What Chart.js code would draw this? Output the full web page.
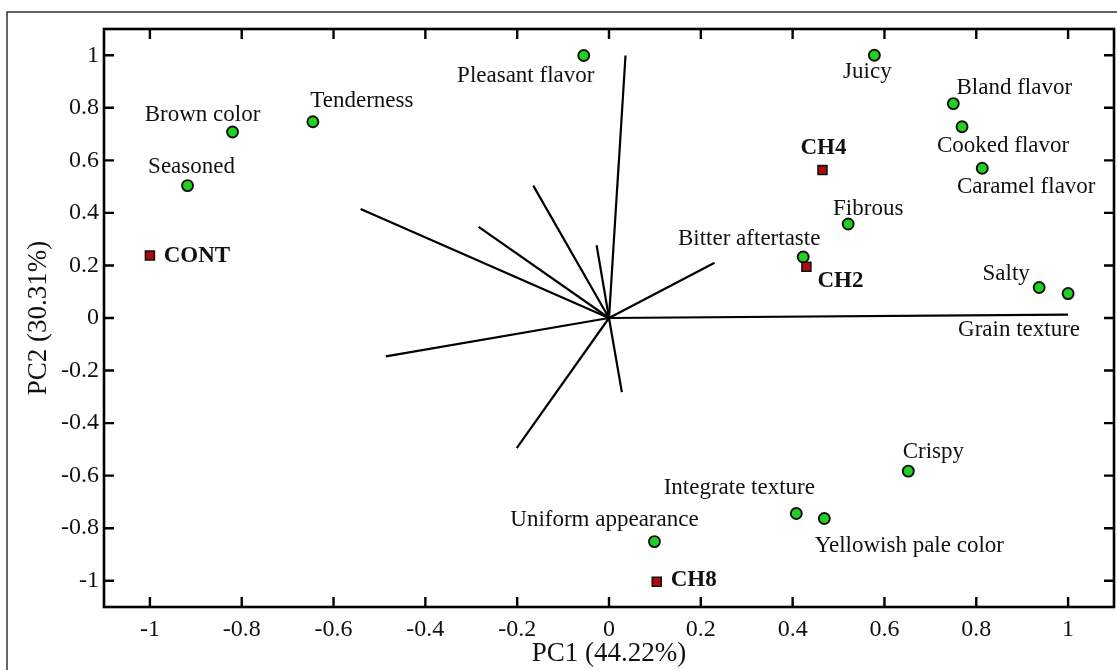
<!DOCTYPE html>
<html>
<head>
<meta charset="utf-8">
<script src="https://cdn.jsdelivr.net/npm/chart.js@4/dist/chart.umd.min.js"></script>
<style>
  body { margin: 0; background: #fff; }
  canvas { display: block; }
</style>
</head>
<body>
<canvas id="myChart" width="1117" height="670"></canvas>
<script>
  // sensory attributes (green circles)
  const attrNames = [
    'Seasoned', 'Brown color', 'Tenderness', 'Pleasant flavor', 'Juicy',
    'Bland flavor', 'Cooked flavor', 'Caramel flavor', 'Fibrous', 'Bitter aftertaste',
    'Salty', 'Grain texture', 'Crispy', 'Integrate texture', 'Yellowish pale color',
    'Uniform appearance'
  ];
  const attrX = [-0.918, -0.820, -0.645, -0.055, 0.578, 0.750, 0.769, 0.813, 0.521, 0.423,
    0.937, 1.000, 0.652, 0.408, 0.469, 0.099];
  const attrY = [0.504, 0.708, 0.747, 0.999, 1.000, 0.816, 0.728, 0.570, 0.358, 0.232,
    0.116, 0.093, -0.583, -0.744, -0.763, -0.851];

  // samples (red squares)
  const sampleNames = ['CONT', 'CH2', 'CH4', 'CH8'];
  const sampleX = [-1.000, 0.430, 0.465, 0.104];
  const sampleY = [0.238, 0.195, 0.563, -1.004];

  // loading vectors from the origin
  const vectorX = [0.036, -0.541, -0.284, -0.165, -0.027, 0.230, 1.000, -0.486, 0.028, -0.201];
  const vectorY = [0.999, 0.415, 0.347, 0.504, 0.277, 0.210, 0.013, -0.146, -0.282, -0.495];

  const xTicks = [-1, -0.8, -0.6, -0.4, -0.2, 0, 0.2, 0.4, 0.6, 0.8, 1];
  const yTicks = [-1, -0.8, -0.6, -0.4, -0.2, 0, 0.2, 0.4, 0.6, 0.8, 1];

  // label placement relative to its marker, in pixels (centre x, baseline y)
  const labelOffsets = {
    'Seasoned': [4, -13], 'Brown color': [-30, -11], 'Tenderness': [49, -15],
    'Pleasant flavor': [-58, 26], 'Juicy': [-7, 23], 'Bland flavor': [61, -10],
    'Cooked flavor': [41, 25], 'Caramel flavor': [44, 25], 'Fibrous': [20, -9],
    'Bitter aftertaste': [-54, -12], 'Salty': [-33, -8], 'Grain texture': [-49, 42],
    'Crispy': [25, -13], 'Integrate texture': [-57, -19], 'Yellowish pale color': [85, 34],
    'Uniform appearance': [-50, -16],
    'CONT': [47, 7], 'CH2': [34, 20], 'CH4': [1, -16], 'CH8': [37, 4]
  };

  const serif = '"Liberation Serif", "Times New Roman", serif';

  const vectorSets = vectorX.map((vx, i) => ({
    type: 'scatter',
    data: [{ x: 0, y: 0 }, { x: vx, y: vectorY[i] }],
    showLine: true,
    borderColor: '#000',
    borderWidth: 2.2,
    pointRadius: 0,
    order: 3
  }));

  // pin the right edge of the plot box (Chart.js keeps a few px for the last tick label)
  const pinRight = {
    id: 'pinRight',
    afterLayout(chart) {
      const xs = chart.scales.x;
      const r = chart.width - 3;
      chart.chartArea.right = r;
      chart.chartArea.width = r - chart.chartArea.left;
      xs.right = r;
      xs.width = r - xs.left;
      xs.configure();
    }
  };

  const frame = {
    id: 'frame',
    afterDraw(chart) {
      const ctx = chart.ctx;
      const a = chart.chartArea;
      const xs = chart.scales.x, ys = chart.scales.y;
      ctx.save();
      // outer figure border
      ctx.strokeStyle = '#333';
      ctx.lineWidth = 1.5;
      ctx.strokeRect(7, 12, 1200, 800);
      // plot box
      ctx.strokeStyle = '#000';
      ctx.lineWidth = 2.6;
      ctx.strokeRect(a.left, a.top, a.right - a.left, a.bottom - a.top);
      // inward tick marks on all four sides
      ctx.lineWidth = 2.4;
      ctx.beginPath();
      xTicks.forEach(v => {
        const px = xs.getPixelForValue(v);
        ctx.moveTo(px, a.bottom); ctx.lineTo(px, a.bottom - 10);
        ctx.moveTo(px, a.top); ctx.lineTo(px, a.top + 10);
      });
      yTicks.forEach(v => {
        const py = ys.getPixelForValue(v);
        ctx.moveTo(a.left, py); ctx.lineTo(a.left + 10, py);
        ctx.moveTo(a.right, py); ctx.lineTo(a.right - 10, py);
      });
      ctx.stroke();
      // point labels
      ctx.fillStyle = '#111';
      ctx.textAlign = 'center';
      ctx.textBaseline = 'alphabetic';
      ctx.font = '23px ' + serif;
      attrNames.forEach((n, i) => {
        const o = labelOffsets[n];
        ctx.fillText(n, xs.getPixelForValue(attrX[i]) + o[0], ys.getPixelForValue(attrY[i]) + o[1]);
      });
      ctx.font = 'bold 23px ' + serif;
      sampleNames.forEach((n, i) => {
        const o = labelOffsets[n];
        ctx.fillText(n, xs.getPixelForValue(sampleX[i]) + o[0], ys.getPixelForValue(sampleY[i]) + o[1]);
      });
      ctx.restore();
    }
  };

  const data = {
    datasets: [
      {
        label: 'Samples',
        data: sampleX.map((x, i) => ({ x: x, y: sampleY[i] })),
        pointStyle: 'rect',
        pointRadius: 6.3,
        backgroundColor: '#b00a0a',
        borderColor: '#111',
        borderWidth: 1.6,
        order: 1
      },
      {
        label: 'Attributes',
        data: attrX.map((x, i) => ({ x: x, y: attrY[i] })),
        pointStyle: 'circle',
        pointRadius: 5.5,
        backgroundColor: '#22d022',
        borderColor: '#111',
        borderWidth: 1.9,
        order: 2
      },
      ...vectorSets
    ]
  };

  const tickFmt = v => String(Math.round(v * 10) / 10);

  const config = {
    type: 'scatter',
    data: data,
    options: {
      responsive: false,
      animation: false,
      layout: { padding: { left: 0, top: 29, right: 3, bottom: 0 } },
      plugins: { legend: { display: false }, tooltip: { enabled: false } },
      scales: {
        x: {
          min: -1.1, max: 1.1,
          afterBuildTicks: s => { s.ticks = xTicks.map(v => ({ value: v })); },
          afterFit: s => { s.height = 63; },
          grid: { display: false, drawTicks: false },
          border: { display: false },
          ticks: { color: '#111', padding: 8, font: { family: serif, size: 24 }, callback: tickFmt },
          title: {
            display: true, text: 'PC1 (44.22%)', color: '#111',
            font: { family: serif, size: 27 }, padding: { top: 0, bottom: 0 }
          }
        },
        y: {
          min: -1.1, max: 1.1,
          afterBuildTicks: s => { s.ticks = yTicks.map(v => ({ value: v })); },
          afterFit: s => { s.width = 104; s.paddingTop = 0; s.paddingBottom = 0; },
          grid: { display: false, drawTicks: false },
          border: { display: false },
          ticks: { color: '#111', padding: 5, font: { family: serif, size: 24 }, callback: tickFmt },
          title: {
            display: true, text: 'PC2 (30.31%)', color: '#111',
            font: { family: serif, size: 27 }, padding: { top: 23, bottom: 0 }
          }
        }
      }
    },
    plugins: [pinRight, frame]
  };

  const myChart = new Chart(
    document.getElementById('myChart'),
    config
  );
</script>
</body>
</html>
